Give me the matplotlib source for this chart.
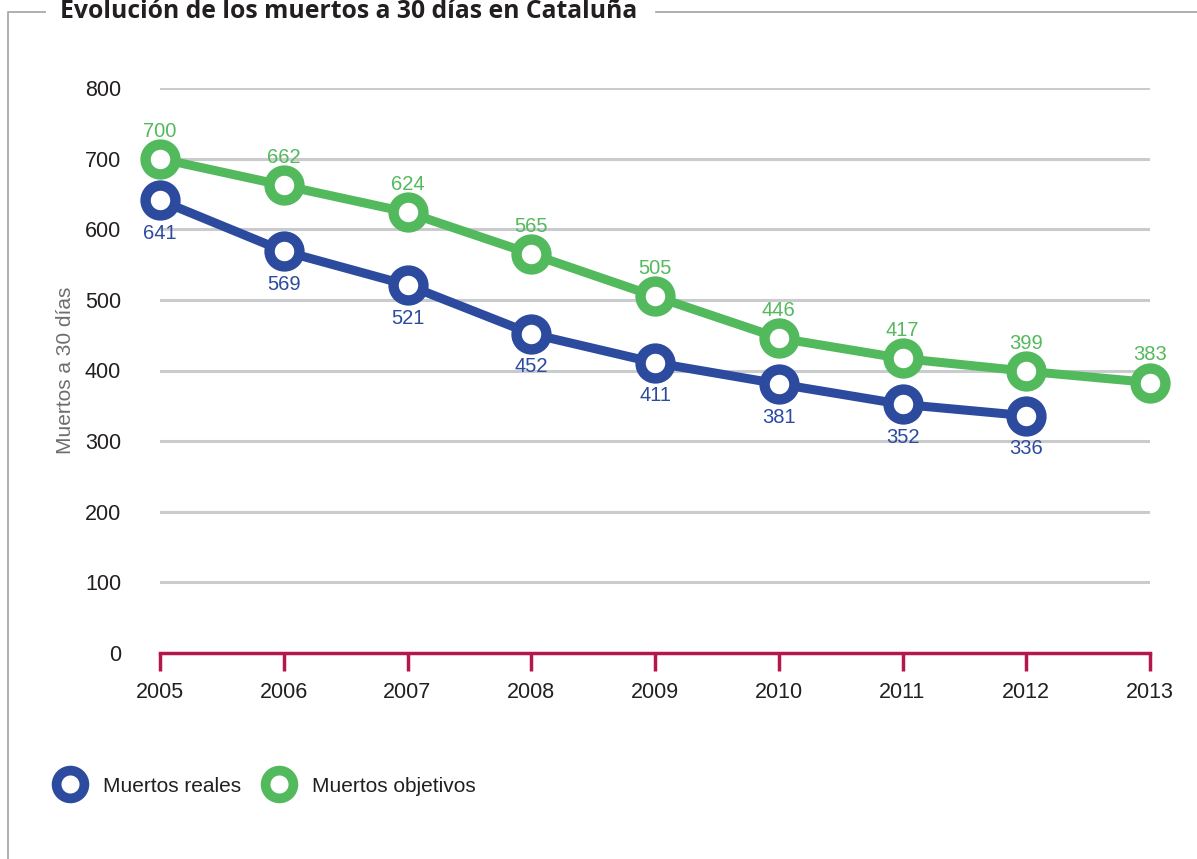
import matplotlib
matplotlib.use("Agg")
from matplotlib import pyplot as plt
from matplotlib.lines import Line2D

years = [2005, 2006, 2007, 2008, 2009, 2010, 2011, 2012, 2013]
real_years = [2005, 2006, 2007, 2008, 2009, 2010, 2011, 2012]
muertos_reales = [641, 569, 521, 452, 411, 381, 352, 336]
muertos_objetivos = [700, 662, 624, 565, 505, 446, 417, 399, 383]
y_ticks = [0, 100, 200, 300, 400, 500, 600, 700, 800]

BLUE = '#2c4a9e'
GREEN = '#53b95d'
CRIMSON = '#b4184a'
GRID = '#c9cbce'
TEXT = '#231f20'

plt.rcParams['font.family'] = ['Liberation Sans', 'DejaVu Sans']

fig = plt.figure(figsize=(11.97, 8.59), dpi=100)
ax = fig.add_axes([160 / 1197, 1 - 653 / 859, 990 / 1197, 565 / 859])
ax.set_xlim(2005, 2013)
ax.set_ylim(0, 800)

# grid lines
for y in y_ticks[1:]:
    ax.axhline(y, color=GRID, lw=2.2, zorder=0)

marker_kw = dict(marker='o', markersize=21.5, markeredgewidth=7.5,
                 markerfacecolor='white', lw=6.5, clip_on=False, zorder=3)
ax.plot(years, muertos_objetivos, color=GREEN, markeredgecolor=GREEN, **marker_kw)
ax.plot(real_years, muertos_reales, color=BLUE, markeredgecolor=BLUE, **marker_kw)

for x, v in zip(years, muertos_objetivos):
    ax.annotate(str(v), (x, v), xytext=(0, 13), textcoords='offset points',
                ha='center', va='bottom', color=GREEN, fontsize=14.5)
for x, v in zip(real_years, muertos_reales):
    ax.annotate(str(v), (x, v), xytext=(0, -17), textcoords='offset points',
                ha='center', va='top', color=BLUE, fontsize=14.5)

for s in ['top', 'right', 'left']:
    ax.spines[s].set_visible(False)
ax.spines['bottom'].set_color(CRIMSON)
ax.spines['bottom'].set_linewidth(2.5)
ax.set_xticks(years)
ax.set_xticklabels([str(y) for y in years])
ax.set_yticks(y_ticks)
ax.tick_params(axis='x', colors=CRIMSON, width=2.5, length=13, direction='out',
               labelcolor=TEXT, labelsize=15.5, pad=8)
ax.tick_params(axis='y', length=0, labelcolor=TEXT, labelsize=15.5, pad=28)
ax.set_ylabel('Muertos a 30 días', color='#6d6e71', fontsize=15, labelpad=7)

# legend
handles = [
    Line2D([], [], ls='none', marker='o', markersize=20, markeredgewidth=7,
           markerfacecolor='white', markeredgecolor=BLUE),
    Line2D([], [], ls='none', marker='o', markersize=20, markeredgewidth=7,
           markerfacecolor='white', markeredgecolor=GREEN),
]
fig.legend(handles, ['Muertos reales', 'Muertos objetivos'], ncol=2, frameon=False,
           loc='center left', bbox_to_anchor=(30 / 1197, 1 - 786 / 859),
           fontsize=15, handletextpad=0.6, columnspacing=0.8, labelcolor=TEXT)

# frame and title
fig.add_artist(Line2D([8 / 1197, 8 / 1197, 45 / 1197], [0, 1 - 12 / 859, 1 - 12 / 859],
                      color='#a7a9ac', lw=1.3))
fig.add_artist(Line2D([656 / 1197, 1], [1 - 12 / 859, 1 - 12 / 859],
                      color='#a7a9ac', lw=1.3))
fig.text(60 / 1197, 1 - 11 / 859, 'Evolución de los muertos a 30 días en Cataluña',
         ha='left', va='center', fontsize=17.8, fontweight='bold', color=TEXT,
         family=['Open Sans', 'DejaVu Sans'])

plt.savefig('out.png', dpi=100)
plt.close()
